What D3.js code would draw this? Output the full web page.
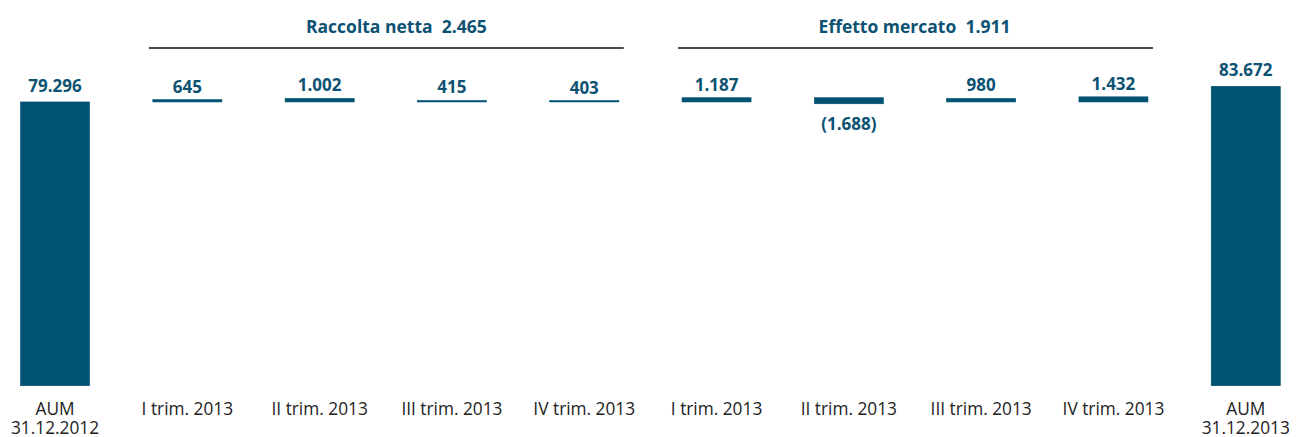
<!DOCTYPE html>
<html>
<head>
<meta charset="utf-8">
<script src="https://cdn.jsdelivr.net/npm/d3@7"></script>
<style>
  body { margin: 0; background: #fff; }
  svg { display: block; font-family: "Open Sans", "Noto Sans", sans-serif; }
  .val { font-weight: bold; fill: #0d5273; font-size: 17px; text-anchor: middle; }
  .grp { font-weight: bold; fill: #0d5273; font-size: 17.5px; text-anchor: middle; white-space: pre; }
  .cat { fill: #222; font-size: 17.3px; text-anchor: middle; }
</style>
</head>
<body>
<svg width="1296" height="437"></svg>
<script>
// categories (label lines) and values
var categories = ["AUM 2012", "I trim. 2013", "II trim. 2013", "III trim. 2013", "IV trim. 2013",
                  "I trim. 2013 ", "II trim. 2013 ", "III trim. 2013 ", "IV trim. 2013 ", "AUM 2013"];
var catLabels = [["AUM", "31.12.2012"], ["I trim. 2013"], ["II trim. 2013"], ["III trim. 2013"], ["IV trim. 2013"],
                 ["I trim. 2013"], ["II trim. 2013"], ["III trim. 2013"], ["IV trim. 2013"], ["AUM", "31.12.2013"]];
var values = [79296, 645, 1002, 415, 403, 1187, -1688, 980, 1432, 83672];
var valueLabels = ["79.296", "645", "1.002", "415", "403", "1.187", "(1.688)", "980", "1.432", "83.672"];
var totals = [true, false, false, false, false, false, false, false, false, true];

var groups = [
  {label: "Raccolta netta  2.465", from: 1, to: 4, dx: 10},
  {label: "Effetto mercato  1.911", from: 5, to: 8, dx: -1}
];

var svg = d3.select("svg");
var color = "#005272";

var x = d3.scaleBand()
    .domain(categories)
    .range([-11.1, 1311.9])
    .paddingInner(0.478)
    .paddingOuter(0.239);

var y = d3.scaleLinear().domain([0, 83672]).range([385.7, 86.3]);

var base = values[0];

function barTop(d, i) {
  if (totals[i]) return y(d);
  if (d >= 0) return y(base + d);
  return y(base - d * 0.7);
}
function barBottom(d, i) {
  if (totals[i]) return y(0);
  if (d >= 0) return y(base);
  return y(base + d * 0.3);
}

svg.selectAll(".bar")
    .data(values)
  .enter().append("rect")
    .attr("class", "bar")
    .attr("x", function(d, i) { return x(categories[i]); })
    .attr("width", x.bandwidth())
    .attr("y", function(d, i) { return barTop(d, i); })
    .attr("height", function(d, i) { return barBottom(d, i) - barTop(d, i); })
    .attr("fill", color)
    .attr("stroke", color)
    .attr("stroke-width", 0.6);

// value labels
svg.selectAll(".val")
    .data(values)
  .enter().append("text")
    .attr("class", "val")
    .attr("x", function(d, i) { return x(categories[i]) + x.bandwidth() / 2; })
    .attr("y", function(d, i) {
      if (totals[i]) return barTop(d, i) - 10;
      if (d < 0) return barBottom(d, i) + 26;
      return barTop(d, i) - 7;
    })
    .text(function(d, i) { return valueLabels[i]; });

// category labels
var cat = svg.selectAll(".cat")
    .data(catLabels)
  .enter().append("text")
    .attr("class", "cat")
    .attr("x", function(d, i) { return x(categories[i]) + x.bandwidth() / 2; })
    .attr("y", 415);

cat.selectAll("tspan")
    .data(function(d) { return d; })
  .enter().append("tspan")
    .attr("x", function() { return d3.select(this.parentNode).attr("x"); })
    .attr("dy", function(d, i) { return i === 0 ? 0 : 19; })
    .text(function(d) { return d; });

// group brackets
groups.forEach(function(g) {
  var x0 = x(categories[g.from]) - 4;
  var x1 = x(categories[g.to]) + x.bandwidth() + 5;
  svg.append("line")
    .attr("x1", x0).attr("x2", x1)
    .attr("y1", 48).attr("y2", 48)
    .attr("stroke", "#111")
    .attr("stroke-width", 1.4);
  svg.append("text")
    .attr("class", "grp")
    .attr("x", (x0 + x1) / 2 + g.dx)
    .attr("y", 33)
    .text(g.label);
});
</script>
</body>
</html>
